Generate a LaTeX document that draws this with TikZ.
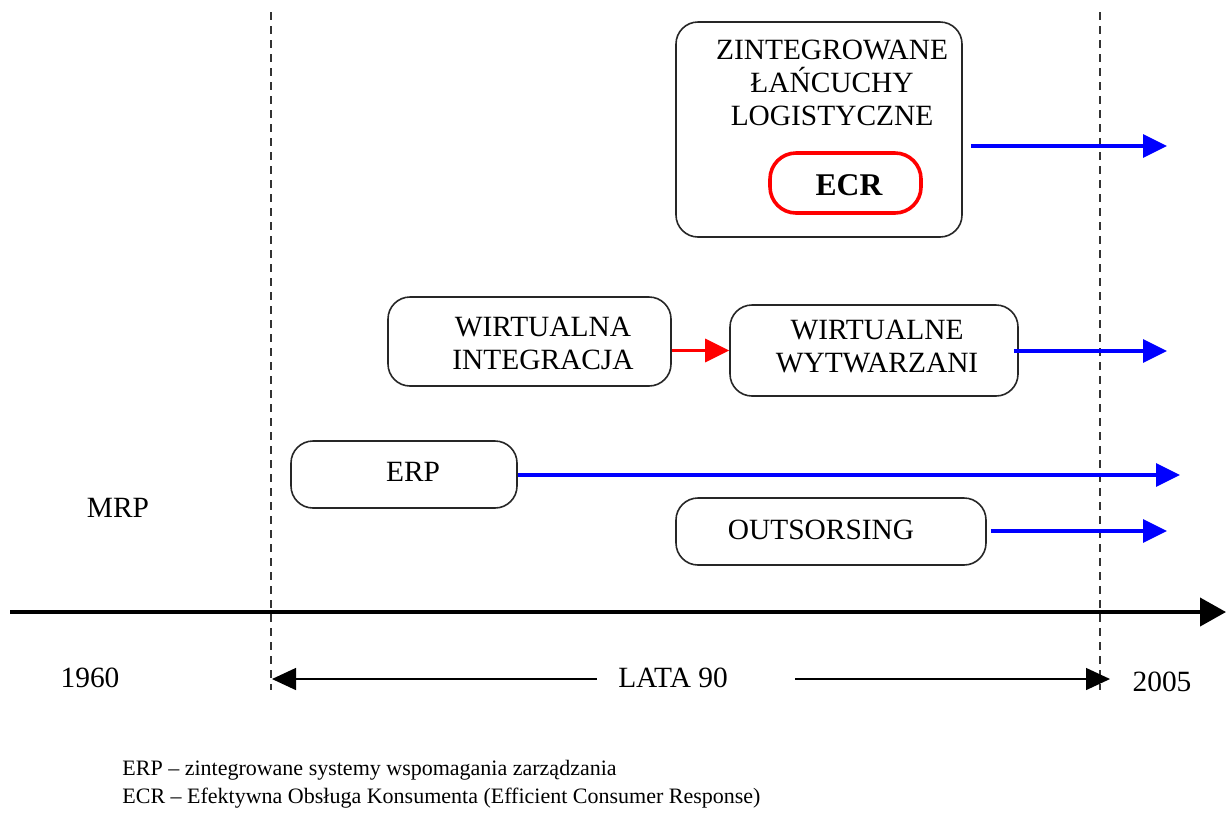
\documentclass[tikz,border=0pt]{standalone}
\usepackage{fontspec}
\setmainfont{Liberation Serif}
\usetikzlibrary{arrows.meta}
\begin{document}
\begin{tikzpicture}[x=0.5pt,y=-0.5pt,
  box/.style={draw=black!85, line width=0.8pt, rounded corners=11pt, inner sep=0pt},
  ecrbox/.style={draw=red, line width=1.8pt, rounded corners=13pt, inner sep=0pt},
  lbl/.style={font=\fontsize{14.7}{16.5}\selectfont, align=center, inner sep=0pt},
  legend/.style={font=\fontsize{11}{13}\selectfont, anchor=west, inner sep=0pt},
  flow/.style={draw=blue, line width=1.6pt, -{Triangle[length=12pt,width=11.5pt]}},
  link/.style={draw=red, line width=1.6pt, -{Triangle[length=12pt,width=11.5pt]}},
  era/.style={draw=black!80, line width=0.6pt, dash pattern=on 4pt off 3pt},
  axis/.style={draw=black, line width=2pt, -{Triangle[length=13pt,width=14pt]}},
  span/.style={draw=black, line width=0.7pt}]
\useasboundingbox (0,0) rectangle (1229,816);

% era boundaries
\coordinate (e1t) at (271,12);  \coordinate (e1b) at (271,690);
\coordinate (e2t) at (1100,12); \coordinate (e2b) at (1100,690);
\draw[era] (e1t) -- (e1b);
\draw[era] (e2t) -- (e2b);

% boxes
\node[box, minimum width=143pt, minimum height=107.5pt] (zl) at (819,129.5) {};
\node[ecrbox, minimum width=75.5pt, minimum height=30pt] (ecr) at (845.5,183) {};
\node[box, minimum width=141.5pt, minimum height=44.5pt] (wi) at (529.5,341.5) {};
\node[box, minimum width=144pt, minimum height=45.5pt] (ww) at (874,350.5) {};
\node[box, minimum width=113pt, minimum height=33.5pt] (erp) at (404,474.5) {};
\node[box, minimum width=155pt, minimum height=33.5pt] (out) at (831,531.5) {};

% box labels
\node[lbl] (zlt) at (832,83) {ZINTEGROWANE\\ŁAŃCUCHY\\LOGISTYCZNE};
\node[inner sep=0pt, font=\fontsize{15.8}{18}\selectfont\bfseries] (ecrt) at (849,185) {ECR};
\node[lbl] (wit) at (543,343.5) {WIRTUALNA\\INTEGRACJA};
\node[lbl] (wwt) at (877,347) {WIRTUALNE\\WYTWARZANI};
\node[lbl] (erpt) at (413,472) {ERP};
\node[lbl] (outt) at (821,530) {OUTSORSING};
\node[lbl] (mrp) at (118,508) {MRP};

% arrow ends
\coordinate (zend) at (1167,146);
\coordinate (wwend) at (1167,351);
\coordinate (erpend) at (1180,475);
\coordinate (outend) at (1167,531);

\draw[flow] (zl.east |- zend) ++(4pt,0) -- (zend);
\draw[link] (wi.east |- ww.west) -- (ww.west);
\draw[flow] (ww.east |- wwend) ++(-2.5pt,0) -- (wwend);
\draw[flow] (erp.east |- erpend) -- (erpend);
\draw[flow] (out.east |- outend) ++(2pt,0) -- (outend);

% time axis
\coordinate (ax0) at (10,612);
\coordinate (ax1) at (1226,612);
\draw[axis] (ax0) -- (ax1);

\node[lbl] (y1960) at (90,678) {1960};
\node[lbl] (lata) at (673,678) {LATA 90};
\node[lbl] (y2005) at (1162,682) {2005};

\coordinate (sl) at (272,679);
\coordinate (sa) at (597,679);
\coordinate (sb) at (795,679);
\coordinate (sr) at (1110,679);
\draw[span, {Triangle[length=12pt,width=11pt]}-] (sl) -- (sa);
\draw[span, -{Triangle[length=12pt,width=11pt]}] (sb) -- (sr);

% legend
\node[legend] (l1) at (122,770) {ERP – zintegrowane systemy wspomagania zarządzania};
\node[legend] (l2) at (122,798) {ECR – Efektywna Obsługa Konsumenta (Efficient Consumer Response)};
\end{tikzpicture}
\end{document}
